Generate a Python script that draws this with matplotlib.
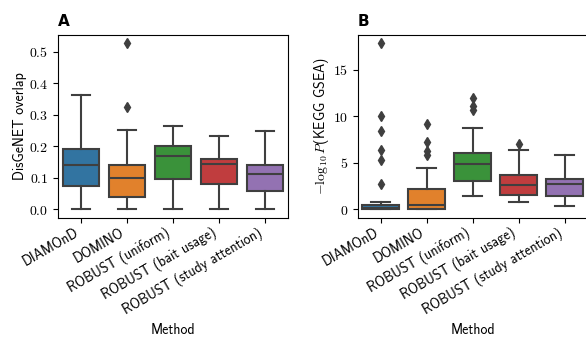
"""Box plots: DisGeNET overlap and KEGG GSEA enrichment per method."""

import matplotlib
matplotlib.use("Agg")
import matplotlib.pyplot as plt
from matplotlib.ticker import FuncFormatter, MultipleLocator

plt.rcParams["mathtext.fontset"] = "cm"
plt.rcParams["font.size"] = 10
SANS = "cmss10"  # Computer Modern Sans shipped with matplotlib

methods = ["DIAMOnD", "DOMINO", "ROBUST (uniform)", "ROBUST (bait usage)",
           "ROBUST (study attention)"]
colors = ["#3274a1", "#e1812c", "#3a923a", "#c03d3e", "#9372b2"]
edge = "#3f3f3f"

# Panel A: DisGeNET overlap (five-number summaries + outliers)
a_lo = [0.0, 0.0, 0.0, 0.0, 0.0]
a_q1 = [0.075, 0.040, 0.096, 0.081, 0.059]
a_med = [0.141, 0.098, 0.170, 0.143, 0.112]
a_q3 = [0.190, 0.142, 0.200, 0.160, 0.142]
a_hi = [0.361, 0.250, 0.265, 0.233, 0.248]
a_fliers = [[], [0.325, 0.527], [], [], []]

# Panel B: -log10 P (KEGG GSEA)
b_lo = [0.0, 0.0, 1.40, 0.75, 0.39]
b_q1 = [0.0, 0.0, 3.01, 1.58, 1.40]
b_med = [0.18, 0.43, 4.84, 2.65, 2.72]
b_q3 = [0.43, 2.19, 6.06, 3.73, 3.26]
b_hi = [0.75, 4.44, 8.75, 6.38, 5.88]
b_fliers = [[2.72, 5.30, 6.34, 8.39, 10.0, 17.9], [5.80, 6.24, 7.30, 9.17],
            [10.7, 11.15, 11.97], [7.03], []]


def stats(lo, q1, med, q3, hi, fliers):
    return [dict(whislo=l, q1=a, med=m, q3=b, whishi=h, fliers=f)
            for l, a, m, b, h, f in zip(lo, q1, med, q3, hi, fliers)]


def draw(ax, st, ylabel, title, step, fmt):
    bp = ax.bxp(
        st, positions=range(len(methods)), widths=0.8, patch_artist=True,
        boxprops=dict(edgecolor=edge, linewidth=1.5),
        medianprops=dict(color=edge, linewidth=1.5),
        whiskerprops=dict(color=edge, linewidth=1.5),
        capprops=dict(color=edge, linewidth=1.5),
        flierprops=dict(marker="d", markerfacecolor=edge, markeredgecolor=edge,
                        markersize=5),
    )
    for patch, c in zip(bp["boxes"], colors):
        patch.set_facecolor(c)
    ax.set_xlim(-0.5, len(methods) - 0.5)
    ax.set_xticks(range(len(methods)))
    ax.set_xticklabels(methods, rotation=30, ha="right", family=SANS)
    ax.tick_params(axis="x", pad=2)
    ax.yaxis.set_major_locator(MultipleLocator(step))
    ax.yaxis.set_major_formatter(FuncFormatter(lambda v, p: "$" + fmt.format(v) + "$"))
    ax.set_xlabel("Method", family=SANS, labelpad=4)
    ax.set_ylabel(ylabel, family=SANS, labelpad=1.5)
    ax.set_title(title, loc="left", fontweight="bold", fontsize=11)


fig = plt.figure(figsize=(5.86, 3.37), dpi=100)
ax_a = fig.add_axes([0.099, 0.354, 0.3925, 0.543])
ax_b = fig.add_axes([0.6104, 0.354, 0.3925, 0.543])

draw(ax_a, stats(a_lo, a_q1, a_med, a_q3, a_hi, a_fliers),
     "DisGeNET overlap", "A", 0.1, "{:.1f}")
draw(ax_b, stats(b_lo, b_q1, b_med, b_q3, b_hi, b_fliers),
     r"$-\log_{10} P$(KEGG GSEA)", "B", 5, "{:.0f}")

fig.savefig("out.png", dpi=100)
